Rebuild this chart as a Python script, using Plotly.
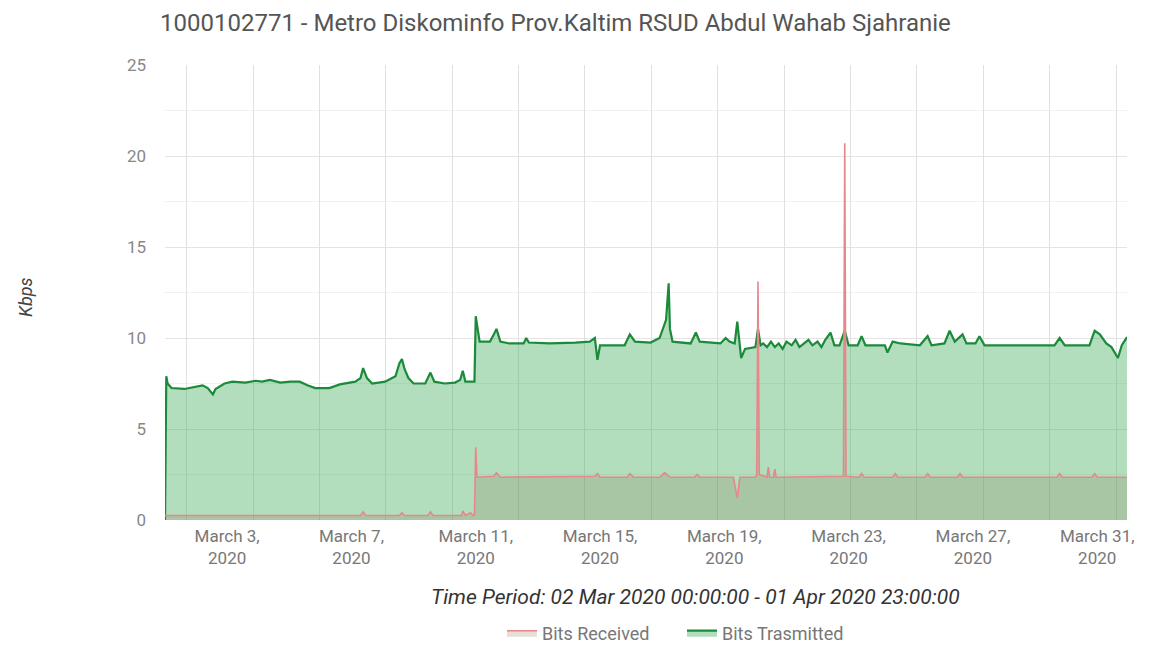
import pandas as pd
import plotly.graph_objects as go

# ---------------- data (hours since 2020-03-02 00:00, values in Kbps) ----------------
START = pd.Timestamp("2020-03-02 00:00")

tx_hours = [0, 1, 2, 5, 15, 23, 29, 33, 37, 39, 46, 52, 62, 70, 75, 81, 89, 97, 104,
            110, 116, 127, 135, 147, 151, 153, 156, 160, 170, 178, 181, 183, 185, 188,
            192, 201, 205, 208, 216, 224, 228, 230, 232, 239, 240, 243, 251, 254, 256,
            259, 266, 277, 279, 281, 297, 317, 328, 332, 334, 336, 344, 355, 359, 363,
            375, 382, 387, 389, 390, 392, 406, 410, 413, 429, 433, 436, 440, 442, 445,
            448, 456, 458, 460, 462, 465, 468, 471, 474, 477, 480, 484, 487, 490, 494,
            497, 500, 504, 507, 510, 514, 517, 521, 525, 528, 535, 538, 541, 556, 558,
            562, 568, 583, 589, 592, 602, 606, 610, 616, 619, 626, 629, 633, 687, 691,
            695, 714, 718, 722, 727, 731, 736, 739, 743]
tx_values = [0.0, 7.9, 7.5, 7.25, 7.2, 7.3, 7.4, 7.25, 6.9, 7.2, 7.5, 7.6, 7.55, 7.65,
             7.6, 7.7, 7.55, 7.6, 7.6, 7.4, 7.25, 7.25, 7.45, 7.6, 7.8, 8.35, 7.8, 7.5,
             7.6, 7.9, 8.6, 8.85, 8.3, 7.8, 7.5, 7.5, 8.1, 7.6, 7.5, 7.55, 7.7, 8.2, 7.6,
             7.6, 11.2, 9.8, 9.8, 10.2, 10.5, 9.8, 9.7, 9.7, 10.0, 9.75, 9.7, 9.75, 9.8,
             10.0, 8.8, 9.6, 9.6, 9.6, 10.2, 9.8, 9.75, 10.0, 11.0, 13.0, 10.5, 9.8, 9.7,
             10.3, 9.8, 9.7, 10.0, 9.8, 9.7, 10.9, 8.9, 9.4, 9.5, 10.5, 9.6, 9.7, 9.5,
             9.8, 9.5, 9.7, 9.4, 9.8, 9.6, 9.9, 9.5, 9.7, 9.9, 9.6, 9.8, 9.5, 9.9, 10.3,
             9.6, 9.6, 10.4, 9.6, 9.6, 10.1, 9.6, 9.6, 9.2, 9.8, 9.7, 9.6, 10.1, 9.6, 9.7,
             10.4, 9.8, 10.2, 9.7, 9.7, 10.1, 9.6, 9.6, 10.0, 9.6, 9.6, 10.4, 10.2, 9.7,
             9.5, 8.9, 9.6, 10.05]

rx_hours = [0, 151, 153, 155, 181, 183, 185, 203, 205, 207, 229, 230, 232, 236, 238,
            239, 240, 241, 254, 256, 259, 332, 334, 336, 357, 359, 362, 382, 386, 390,
            409, 411, 413, 439, 442, 444, 456, 457, 458, 459, 465, 466, 467, 470, 471,
            472, 524, 525, 526, 536, 538, 540, 562, 564, 566, 587, 589, 591, 612, 614,
            616, 689, 691, 693, 716, 718, 720, 743]
rx_values = [0.25, 0.25, 0.45, 0.25, 0.25, 0.4, 0.25, 0.25, 0.45, 0.25, 0.25, 0.5, 0.25,
             0.4, 0.25, 0.25, 4.0, 2.35, 2.4, 2.6, 2.35, 2.4, 2.55, 2.35, 2.35, 2.55,
             2.35, 2.35, 2.6, 2.35, 2.35, 2.5, 2.35, 2.35, 1.2, 2.35, 2.35, 2.5, 13.1,
             2.5, 2.35, 2.9, 2.35, 2.35, 2.8, 2.35, 2.4, 20.7, 2.4, 2.35, 2.55, 2.35,
             2.35, 2.55, 2.35, 2.35, 2.55, 2.35, 2.35, 2.55, 2.35, 2.35, 2.55, 2.35,
             2.35, 2.55, 2.35, 2.35]

tick_dates = ["2020-03-04", "2020-03-08", "2020-03-12", "2020-03-16",
              "2020-03-20", "2020-03-24", "2020-03-28", "2020-04-01"]
tick_labels = ["March 3,<br>2020", "March 7,<br>2020", "March 11,<br>2020",
               "March 15,<br>2020", "March 19,<br>2020", "March 23,<br>2020",
               "March 27,<br>2020", "March 31,<br>2020"]

title_text = "1000102771 - Metro Diskominfo Prov.Kaltim RSUD Abdul Wahab Sjahranie"
period_text = "Time Period: 02 Mar 2020 00:00:00 - 01 Apr 2020 23:00:00"

# ---------------- figure ----------------
tx_x = START + pd.to_timedelta(tx_hours, unit="h")
rx_x = START + pd.to_timedelta(rx_hours, unit="h")
x_end = START + pd.Timedelta(hours=743)

FONT = "Roboto, 'Noto Sans', sans-serif"
W, H = 1150, 645
ML, MR, MT, MB = 165, 23, 65, 125
PW, PH = W - ML - MR, H - MT - MB

fig = go.Figure()
fig.add_trace(go.Scatter(
    x=tx_x, y=tx_values, name="Bits Trasmitted", mode="lines",
    line=dict(color="#1b8a3a", width=2.2),
    fill="tozeroy", fillcolor="rgba(52,168,83,0.38)",
))
fig.add_trace(go.Scatter(
    x=rx_x, y=rx_values, name="Bits Received", mode="lines",
    line=dict(color="#e8868b", width=1.6),
    fill="tozeroy", fillcolor="rgba(130,110,75,0.22)",
))
# invisible helper trace so the gridline axis (x2) is drawn
fig.add_trace(go.Scatter(x=[START, x_end], y=[None, None], xaxis="x2",
                         showlegend=False, hoverinfo="skip", mode="lines"))

fig.update_layout(
    width=W, height=H,
    margin=dict(l=ML, r=MR, t=MT, b=MB),
    paper_bgcolor="white", plot_bgcolor="white",
    font=dict(family=FONT, color="#777", size=16),
    title=dict(text=title_text, x=160 / W, xanchor="left", xref="container",
               y=1 - 23 / H, yanchor="middle", yref="container",
               font=dict(size=24, color="#555", family=FONT)),
    showlegend=True,
    legend=dict(orientation="h", traceorder="reversed",
                x=682 / W, xanchor="center", xref="container",
                y=1 - 633 / H, yanchor="middle", yref="container",
                font=dict(size=18, color="#777"), entrywidth=135,
                bgcolor="rgba(0,0,0,0)"),
    xaxis=dict(type="date", range=[START, x_end], tickvals=tick_dates,
               ticktext=tick_labels, showgrid=False, zeroline=False,
               showline=False, ticks="", ticklabelstandoff=4,
               tickfont=dict(size=17, color="#777")),
    xaxis2=dict(type="date", range=[START, x_end], overlaying="x",
                tick0=START + pd.Timedelta(hours=16.76), dtick=51.27 * 3600000,
                showgrid=True, gridcolor="#e0e0e0", gridwidth=1,
                showticklabels=False, ticks="", zeroline=False, showline=False),
    yaxis=dict(range=[0, 25], dtick=5, showgrid=True, gridcolor="#e4e4e4",
               zeroline=False, showline=False, ticks="", ticklabelstandoff=18,
               tickfont=dict(size=17, color="#888"),
               minor=dict(dtick=2.5, showgrid=True, gridcolor="#f1f1f1")),
)

fig.add_annotation(text="<i>Kbps</i>", textangle=-90, xref="paper", yref="paper",
                   x=(25 - ML) / PW, y=(H - MB - 297) / PH,
                   xanchor="center", yanchor="middle", showarrow=False,
                   font=dict(size=18, color="#444", family=FONT))
fig.add_annotation(text="<i>" + period_text + "</i>", xref="paper", yref="paper",
                   x=(695 - ML) / PW, y=(H - MB - 597) / PH,
                   xanchor="center", yanchor="middle", showarrow=False,
                   font=dict(size=21, color="#333", family=FONT))

fig.write_html("out.html", config={"displayModeBar": False})

# remove the browser's default page margin so the figure sits at (0, 0)
with open("out.html", "r", encoding="utf-8") as f:
    html = f.read()
html = html.replace("<body>", '<body style="margin:0;padding:0;">', 1)
with open("out.html", "w", encoding="utf-8") as f:
    f.write(html)
